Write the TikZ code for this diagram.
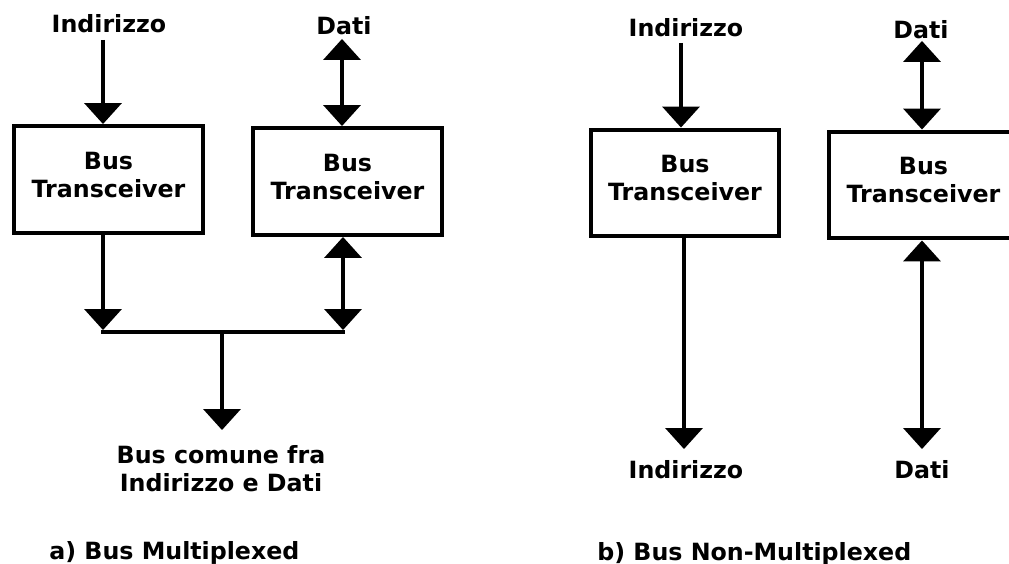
\documentclass[tikz,border=0pt]{standalone}
\usepackage{fontspec}
\setmainfont{DejaVu Sans}
\usetikzlibrary{arrows.meta}
\tikzset{
  txt/.style={inner sep=0pt, font=\bfseries\fontsize{13.5pt}{16pt}\selectfont},
  box/.style={draw, line width=2.27pt, minimum width=3.78cm, minimum height=2.14cm,
    align=center, inner sep=0pt, text depth=5.5pt, font=\bfseries\fontsize{13.5pt}{16pt}\selectfont},
  wire/.style={line width=2.27pt},
  arr/.style={wire, -{Triangle[width=21.5pt,length=11.9pt,line width=0pt]}},
  dbl/.style={wire, {Triangle[width=21.5pt,length=11.9pt,line width=0pt]}-{Triangle[width=21.5pt,length=11.9pt,line width=0pt]}}
}
\begin{document}
\begin{tikzpicture}[x=0.02cm,y=-0.02cm]
\clip (0,0) rectangle (1009,564);
\useasboundingbox (0,0) rectangle (1009,564);

% ---------- a) multiplexed ----------
\node[txt, anchor=base] (lInd) at (109,33) {Indirizzo};
\node[txt, anchor=base] (lDat) at (344,35) {Dati};
\node[box] (b1) at (108.5,179.5) {Bus\\Transceiver};
\node[box] (b2) at (347.5,181.5) {Bus\\Transceiver};

\coordinate (a1s) at (103,40);
\draw[arr] (a1s) -- (a1s |- b1.north);
\coordinate (d1t) at (342,39);
\draw[dbl] (d1t) -- (d1t |- b2.north);

\coordinate (barL) at (103,332);
\coordinate (barR) at (343,332);
\coordinate (barM) at (222,332);
\coordinate (a2e) at (103,330);
\coordinate (d2e) at (343,330);
\draw[arr] (a2e |- b1.south) -- (a2e);
\draw[dbl] (d2e |- b2.south) -- (d2e);
\draw[wire, line cap=rect] (barL) -- (barR);
\coordinate (a3e) at (222,430);
\draw[arr] (barM) -- (a3e);
\node[txt, anchor=north, align=center] (common) at (221,445) {Bus comune fra\\Indirizzo e Dati};
\node[txt, anchor=base west] (capa) at (49,560) {a) Bus Multiplexed};

% ---------- b) non-multiplexed ----------
\node[txt, anchor=base] (rInd) at (686,37) {Indirizzo};
\node[txt, anchor=base] (rDat) at (921,39) {Dati};
\node[box] (b3) at (685,183) {Bus\\Transceiver};
\node[box] (b4) at (923.5,185) {Bus\\Transceiver};

\coordinate (a4s) at (681,43);
\draw[arr] (a4s) -- (a4s |- b3.north);
\coordinate (d3t) at (922,41);
\draw[dbl] (d3t) -- (d3t |- b4.north);

\coordinate (a5e) at (684,449);
\draw[arr] (a5e |- b3.south) -- (a5e);
\coordinate (d4e) at (922,449);
\draw[dbl] (d4e |- b4.south) -- (d4e);

\node[txt, anchor=base] (bInd) at (686,479) {Indirizzo};
\node[txt, anchor=base] (bDat) at (922,479) {Dati};
\node[txt, anchor=base west] (capb) at (597,561) {b) Bus Non-Multiplexed};
\end{tikzpicture}
\end{document}
